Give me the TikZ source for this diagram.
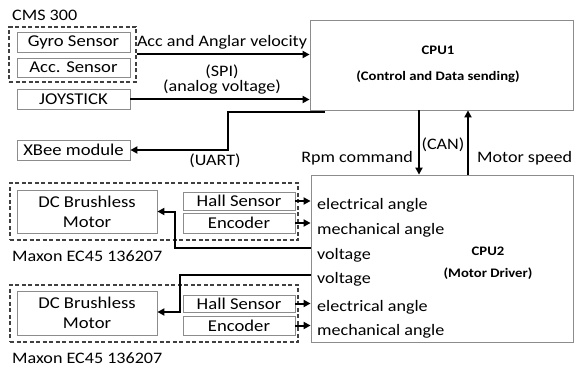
\documentclass[tikz,border=0pt]{standalone}
\usepackage{fontspec}
\setmainfont[FakeStretch=1.13]{Carlito}
\usetikzlibrary{arrows.meta}
\tikzset{
  box/.style={draw=black!45, line width=0.8pt, rectangle, inner sep=0pt, font=\fontsize{16.5}{18}\selectfont},
  bigbox/.style={draw=black!45, line width=0.8pt, rectangle, inner sep=0pt},
  grp/.style={draw=black!75, line width=1.4pt, dash pattern=on 4pt off 2.5pt, rectangle, inner sep=0pt},
  arr/.style={line width=2pt, -{Triangle[length=7pt,width=7pt]}},
  lbl/.style={inner sep=0pt, font=\fontsize{16}{18}\selectfont},
  cpulbl/.style={inner sep=0pt, font=\bfseries\fontsize{13}{15}\selectfont}
}
\begin{document}
\begin{tikzpicture}[x=1pt,y=-1pt]
\useasboundingbox (0,0) rectangle (574,369);
% CPU boxes
\node[bigbox, minimum width=263pt, minimum height=90pt] (cpu1) at (441.5,65) {};
\node[cpulbl] (cpu1a) at (438,50) {CPU1};
\node[cpulbl] (cpu1b) at (438,77) {(Control and Data sending)};
\node[bigbox, minimum width=262pt, minimum height=167pt] (cpu2) at (442,258.5) {};
\node[cpulbl] (cpu2a) at (488,251) {CPU2};
\node[cpulbl] (cpu2b) at (488,274) {(Motor Driver)};
% sensors
\node[lbl, anchor=west] (cms) at (12,15) {CMS 300};
\node[grp, minimum width=127pt, minimum height=55pt] (cmsbox) at (72.5,54.5) {};
\node[box, minimum width=113pt, minimum height=20pt] (gyro) at (73.5,42.5) {Gyro Sensor};
\node[box, minimum width=113pt, minimum height=19pt] (acc) at (73.5,67.5) {Acc. Sensor};
\node[box, minimum width=113pt, minimum height=20pt] (joy) at (73.5,99.5) {JOYSTICK};
\node[box, minimum width=113pt, minimum height=20pt] (xbee) at (73.5,150) {XBee module};
% arrows to CPU1
\draw[arr] (cmsbox.east) -- (cmsbox.east -| cpu1.west);
\node[lbl] (l1) at (222,42) {Acc and Anglar velocity};
\draw[arr] (joy.east) -- (joy.east -| cpu1.west);
\node[lbl] (l2) at (222,72) {(SPI)};
\node[lbl] (l3) at (222,87) {(analog voltage)};
% UART
\coordinate (u0) at (325,112);
\coordinate (u1) at (228,112);
\draw[arr] (u0) -- (u1) |- (xbee.east);
\node[lbl] (l4) at (215,161) {(UART)};
% CAN
\coordinate (rc) at (419,0);
\coordinate (mc) at (468,0);
\draw[arr] (cpu1.south -| rc) -- (cpu2.north -| rc);
\draw[arr] (cpu2.north -| mc) -- (cpu1.south -| mc);
\node[lbl] (l5) at (443,145) {(CAN)};
\node[lbl, anchor=east] (l6) at (413,158) {Rpm command};
\node[lbl, anchor=west] (l7) at (477,158) {Motor speed};
% motor group 1
\node[grp, minimum width=288pt, minimum height=57pt] (g1) at (154,211.5) {};
\node[box, minimum width=140pt, minimum height=43pt, align=center] (dcm1) at (87,211.5) {DC Brushless\\[2pt]Motor};
\node[box, minimum width=112pt, minimum height=18pt] (hall1) at (239,201) {Hall Sensor};
\node[box, minimum width=112pt, minimum height=20pt] (enc1) at (239,223) {Encoder};
\node[lbl, anchor=west] (m1) at (12,256) {Maxon EC45 136207};
% motor group 2
\node[grp, minimum width=288pt, minimum height=57pt] (g2) at (154,313.5) {};
\node[box, minimum width=140pt, minimum height=44pt, align=center] (dcm2) at (87,313) {DC Brushless\\[2pt]Motor};
\node[box, minimum width=112pt, minimum height=17pt] (hall2) at (239,303.5) {Hall Sensor};
\node[box, minimum width=112pt, minimum height=19pt] (enc2) at (239,325.5) {Encoder};
\node[lbl, anchor=west] (m2) at (12,358) {Maxon EC45 136207};
% sensor arrows
\draw[arr] (hall1.east) -- (hall1.east -| cpu2.west);
\draw[arr] (enc1.east) -- (enc1.east -| cpu2.west);
\draw[arr] (hall2.east) -- (hall2.east -| cpu2.west);
\draw[arr] (enc2.east) -- (enc2.east -| cpu2.west);
% voltage lines
\coordinate (v1) at (175,248);
\coordinate (v2) at (180,275);
\draw[arr] (cpu2.west |- v1) -- (v1) |- (dcm1.east);
\draw[arr] (cpu2.west |- v2) -- (v2) |- (dcm2.east |- 0,312);
% CPU2 labels
\node[lbl, anchor=west] (e1) at (317,205) {electrical angle};
\node[lbl, anchor=west] (e2) at (317,230) {mechanical angle};
\node[lbl, anchor=west] (e3) at (317,255) {voltage};
\node[lbl, anchor=west] (e4) at (317,279) {voltage};
\node[lbl, anchor=west] (e5) at (317,307) {electrical angle};
\node[lbl, anchor=west] (e6) at (317,331) {mechanical angle};
\end{tikzpicture}
\end{document}
